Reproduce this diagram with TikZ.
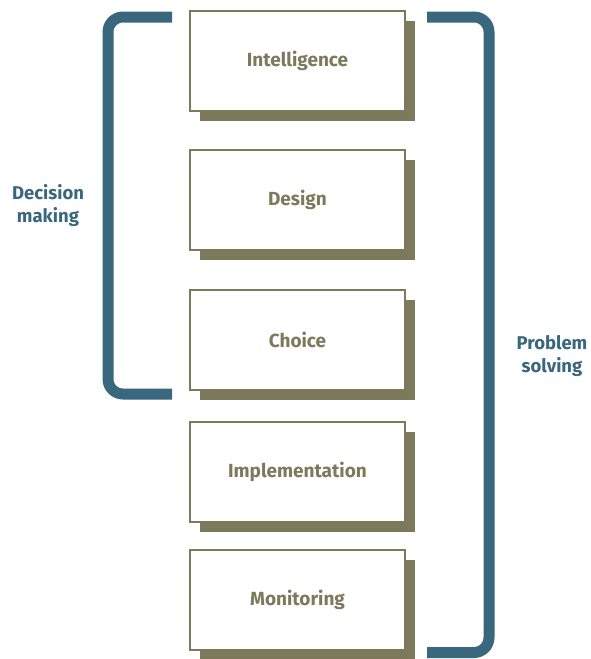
\documentclass[tikz,border=0pt]{standalone}
\usepackage{fontspec}
\setmainfont{Fira Sans}
\usetikzlibrary{shadows}
\definecolor{olivebox}{HTML}{7D795B}
\definecolor{bracketblue}{HTML}{38677E}
\begin{document}
\begin{tikzpicture}[x=1pt,y=-1pt,
  stagebox/.style={draw=olivebox, line width=1.6pt, fill=white,
    minimum width=215pt, minimum height=100pt, inner sep=0pt,
    text=olivebox, font=\fontsize{19}{22}\selectfont\bfseries,
    drop shadow={shadow xshift=10pt, shadow yshift=-10pt, fill=olivebox, opacity=1}},
  bracket/.style={draw=bracketblue, line width=11pt, rounded corners=15pt},
  sidelabel/.style={text=bracketblue, align=center, font=\fontsize{18.5}{23}\selectfont\bfseries}]
\useasboundingbox (0,0) rectangle (591,659);
\node[stagebox] (intel) at (297.5,61) {Intelligence};
\node[stagebox] (design) at (297.5,200) {Design};
\node[stagebox] (choice) at (297.5,340) {Choice};
\node[stagebox] (impl) at (297.5,472) {Implementation};
\node[stagebox] (monit) at (297.5,600) {Monitoring};
\coordinate (dmtop) at (172,17);
\coordinate (dmbot) at (172,394);
\coordinate (pstop) at (427,17);
\coordinate (psbot) at (427,652.5);
\draw[bracket] (dmtop) -- (108,17) -- (108,394) -- (dmbot);
\draw[bracket] (pstop) -- (489,17) -- (489,652.5) -- (psbot);
\node[sidelabel] (dm) at (48,206) {Decision\\making};
\node[sidelabel] (ps) at (552,356) {Problem\\solving};
\end{tikzpicture}
\end{document}
